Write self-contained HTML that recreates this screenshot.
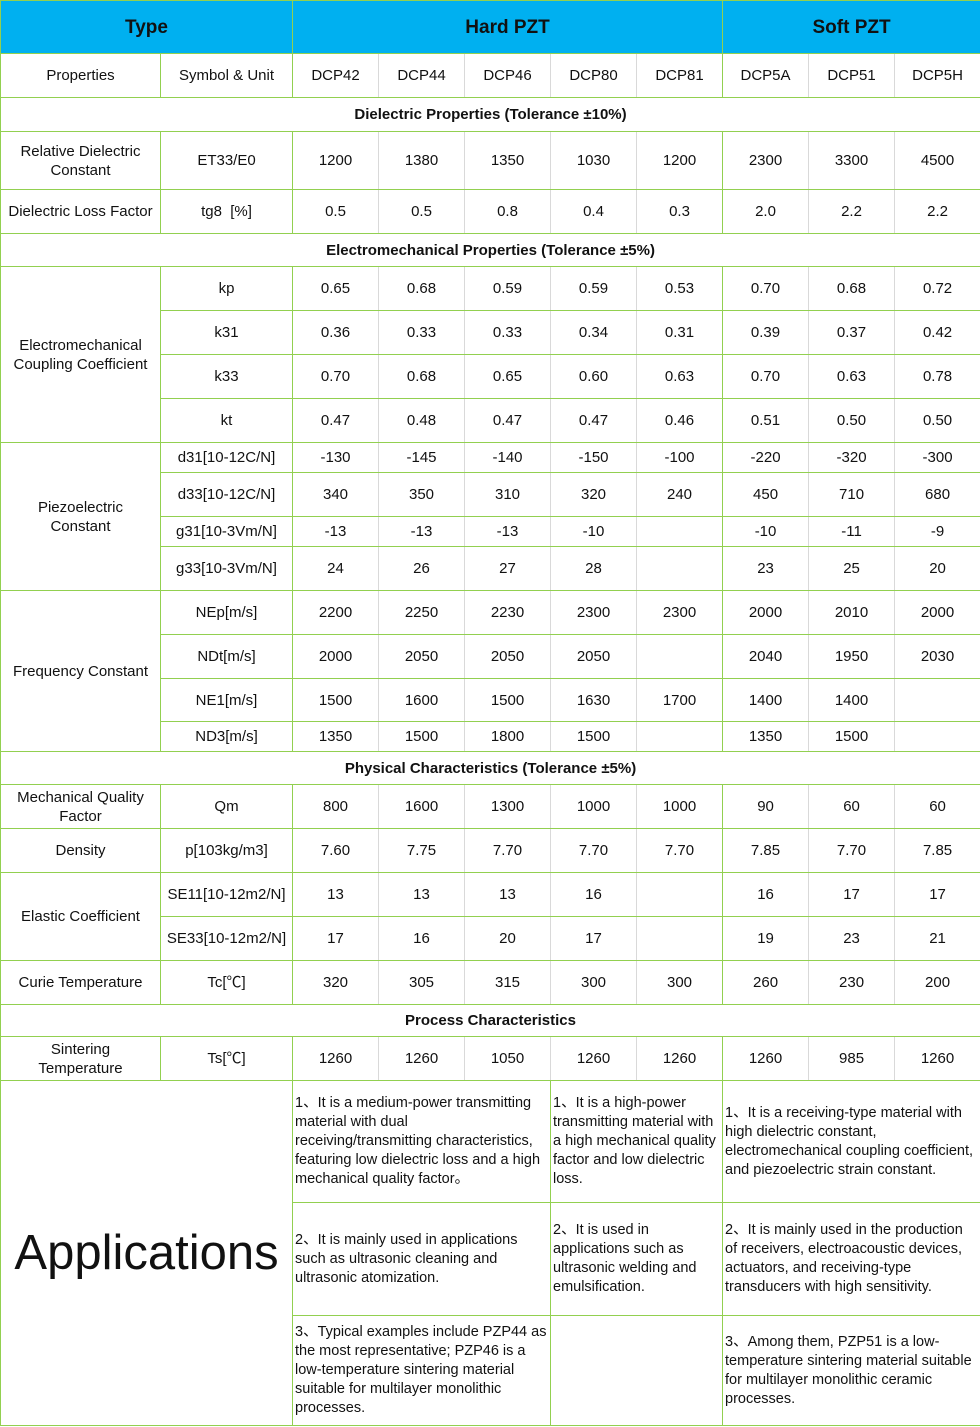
<!DOCTYPE html>
<html><head><meta charset="utf-8"><style>
html,body{margin:0;padding:0;background:#fff;}
table{border-collapse:collapse;table-layout:fixed;width:980px;font-family:"Liberation Sans","Noto Sans CJK SC",sans-serif;font-size:15px;color:#111;}
td{border:1px solid #92d050;text-align:center;vertical-align:middle;padding:0 1px;line-height:19px;overflow:hidden;}
td.g{border-left-color:#d9d9d9;}
td:has(+ td.g){border-right-color:#d9d9d9;}
.hd td{background:#00b0f0;font-weight:bold;font-size:19px;height:52px;}
.b{font-weight:bold;}
.ap{text-align:left;font-size:14.5px;line-height:19px;padding:0 2px;}
.big{font-size:49px;line-height:52px;}
</style></head><body>
<table>
<colgroup><col style="width:160px"><col style="width:132px"><col style="width:86px"><col style="width:86px"><col style="width:86px"><col style="width:86px"><col style="width:86px"><col style="width:86px"><col style="width:86px"><col style="width:86px"></colgroup>
<tr class="hd"><td colspan="2">Type</td><td colspan="5">Hard PZT</td><td colspan="3">Soft PZT</td></tr>
<tr style="height:44px"><td>Properties</td><td>Symbol &amp; Unit</td><td>DCP42</td><td class="g">DCP44</td><td class="g">DCP46</td><td class="g">DCP80</td><td class="g">DCP81</td><td>DCP5A</td><td class="g">DCP51</td><td class="g">DCP5H</td></tr>
<tr style="height:34px"><td colspan="10" class="b">Dielectric Properties (Tolerance ±10%)</td></tr>
<tr style="height:58px"><td>Relative Dielectric<br>Constant</td><td>ET33/E0</td><td>1200</td><td class="g">1380</td><td class="g">1350</td><td class="g">1030</td><td class="g">1200</td><td>2300</td><td class="g">3300</td><td class="g">4500</td></tr>
<tr style="height:44px"><td>Dielectric Loss Factor</td><td>tg8&nbsp; [%]</td><td>0.5</td><td class="g">0.5</td><td class="g">0.8</td><td class="g">0.4</td><td class="g">0.3</td><td>2.0</td><td class="g">2.2</td><td class="g">2.2</td></tr>
<tr style="height:33px"><td colspan="10" class="b">Electromechanical Properties (Tolerance ±5%)</td></tr>
<tr style="height:44px"><td rowspan="4">Electromechanical<br>Coupling Coefficient</td><td>kp</td><td>0.65</td><td class="g">0.68</td><td class="g">0.59</td><td class="g">0.59</td><td class="g">0.53</td><td>0.70</td><td class="g">0.68</td><td class="g">0.72</td></tr>
<tr style="height:44px"><td>k31</td><td>0.36</td><td class="g">0.33</td><td class="g">0.33</td><td class="g">0.34</td><td class="g">0.31</td><td>0.39</td><td class="g">0.37</td><td class="g">0.42</td></tr>
<tr style="height:44px"><td>k33</td><td>0.70</td><td class="g">0.68</td><td class="g">0.65</td><td class="g">0.60</td><td class="g">0.63</td><td>0.70</td><td class="g">0.63</td><td class="g">0.78</td></tr>
<tr style="height:44px"><td>kt</td><td>0.47</td><td class="g">0.48</td><td class="g">0.47</td><td class="g">0.47</td><td class="g">0.46</td><td>0.51</td><td class="g">0.50</td><td class="g">0.50</td></tr>
<tr style="height:30px"><td rowspan="4">Piezoelectric<br>Constant</td><td>d31[10-12C/N]</td><td>-130</td><td class="g">-145</td><td class="g">-140</td><td class="g">-150</td><td class="g">-100</td><td>-220</td><td class="g">-320</td><td class="g">-300</td></tr>
<tr style="height:44px"><td>d33[10-12C/N]</td><td>340</td><td class="g">350</td><td class="g">310</td><td class="g">320</td><td class="g">240</td><td>450</td><td class="g">710</td><td class="g">680</td></tr>
<tr style="height:30px"><td>g31[10-3Vm/N]</td><td>-13</td><td class="g">-13</td><td class="g">-13</td><td class="g">-10</td><td class="g"></td><td>-10</td><td class="g">-11</td><td class="g">-9</td></tr>
<tr style="height:44px"><td>g33[10-3Vm/N]</td><td>24</td><td class="g">26</td><td class="g">27</td><td class="g">28</td><td class="g"></td><td>23</td><td class="g">25</td><td class="g">20</td></tr>
<tr style="height:44px"><td rowspan="4">Frequency Constant</td><td>NEp[m/s]</td><td>2200</td><td class="g">2250</td><td class="g">2230</td><td class="g">2300</td><td class="g">2300</td><td>2000</td><td class="g">2010</td><td class="g">2000</td></tr>
<tr style="height:44px"><td>NDt[m/s]</td><td>2000</td><td class="g">2050</td><td class="g">2050</td><td class="g">2050</td><td class="g"></td><td>2040</td><td class="g">1950</td><td class="g">2030</td></tr>
<tr style="height:43px"><td>NE1[m/s]</td><td>1500</td><td class="g">1600</td><td class="g">1500</td><td class="g">1630</td><td class="g">1700</td><td>1400</td><td class="g">1400</td><td class="g"></td></tr>
<tr style="height:30px"><td>ND3[m/s]</td><td>1350</td><td class="g">1500</td><td class="g">1800</td><td class="g">1500</td><td class="g"></td><td>1350</td><td class="g">1500</td><td class="g"></td></tr>
<tr style="height:33px"><td colspan="10" class="b">Physical Characteristics (Tolerance ±5%)</td></tr>
<tr style="height:44px"><td>Mechanical Quality<br>Factor</td><td>Qm</td><td>800</td><td class="g">1600</td><td class="g">1300</td><td class="g">1000</td><td class="g">1000</td><td>90</td><td class="g">60</td><td class="g">60</td></tr>
<tr style="height:44px"><td>Density</td><td>p[103kg/m3]</td><td>7.60</td><td class="g">7.75</td><td class="g">7.70</td><td class="g">7.70</td><td class="g">7.70</td><td>7.85</td><td class="g">7.70</td><td class="g">7.85</td></tr>
<tr style="height:44px"><td rowspan="2">Elastic Coefficient</td><td>SE11[10-12m2/N]</td><td>13</td><td class="g">13</td><td class="g">13</td><td class="g">16</td><td class="g"></td><td>16</td><td class="g">17</td><td class="g">17</td></tr>
<tr style="height:44px"><td>SE33[10-12m2/N]</td><td>17</td><td class="g">16</td><td class="g">20</td><td class="g">17</td><td class="g"></td><td>19</td><td class="g">23</td><td class="g">21</td></tr>
<tr style="height:44px"><td>Curie Temperature</td><td>Tc[℃]</td><td>320</td><td class="g">305</td><td class="g">315</td><td class="g">300</td><td class="g">300</td><td>260</td><td class="g">230</td><td class="g">200</td></tr>
<tr style="height:32px"><td colspan="10" class="b">Process Characteristics</td></tr>
<tr style="height:44px"><td>Sintering<br>Temperature</td><td>Ts[℃]</td><td>1260</td><td class="g">1260</td><td class="g">1050</td><td class="g">1260</td><td class="g">1260</td><td>1260</td><td class="g">985</td><td class="g">1260</td></tr>
<tr style="height:122px"><td rowspan="3" colspan="2" class="big">Applications</td>
<td colspan="3" class="ap">1、It is a medium-power transmitting material with dual receiving/transmitting characteristics, featuring low dielectric loss and a high mechanical quality factor。</td>
<td colspan="2" class="ap">1、It is a high-power transmitting material with a high mechanical quality factor and low dielectric loss.</td>
<td colspan="3" class="ap">1、It is a receiving-type material with high dielectric constant, electromechanical coupling coefficient, and piezoelectric strain constant.</td></tr>
<tr style="height:113px"><td colspan="3" class="ap">2、It is mainly used in applications such as ultrasonic cleaning and ultrasonic atomization.</td>
<td colspan="2" class="ap">2、It is used in applications such as ultrasonic welding and emulsification.</td>
<td colspan="3" class="ap">2、It is mainly used in the production of receivers, electroacoustic devices, actuators, and receiving-type transducers with high sensitivity.</td></tr>
<tr style="height:110px"><td colspan="3" class="ap">3、Typical examples include PZP44 as the most representative; PZP46 is a low-temperature sintering material suitable for multilayer monolithic processes.</td>
<td colspan="2" class="ap"></td>
<td colspan="3" class="ap">3、Among them, PZP51 is a low-temperature sintering material suitable for multilayer monolithic ceramic processes.</td></tr>
</table>
</body></html>
